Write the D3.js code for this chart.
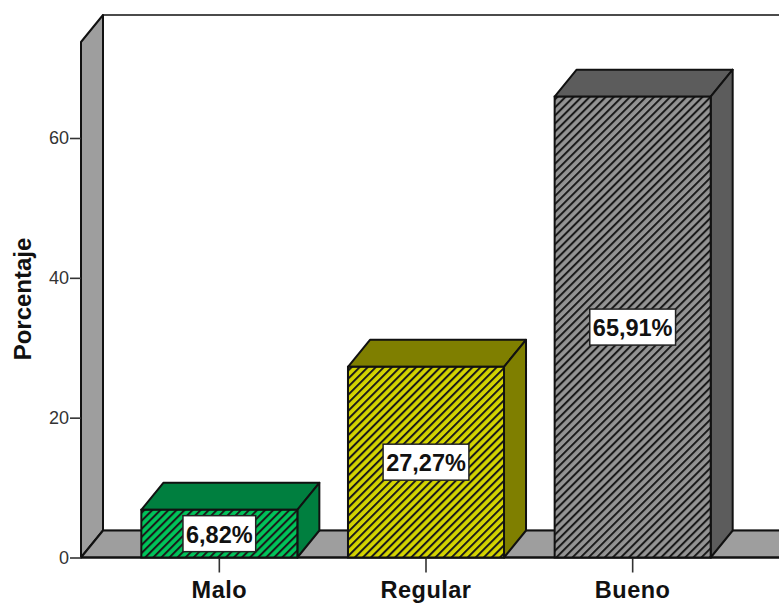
<!DOCTYPE html>
<html><head><meta charset="utf-8">
<script src="https://cdn.jsdelivr.net/npm/d3@7/dist/d3.min.js"></script>
<style>html,body{margin:0;padding:0;background:#fff}svg{display:block}text{font-family:"Liberation Sans",Arial,sans-serif}</style>
</head><body><svg id="c" width="779" height="603"></svg>
<script>
const categories = ["Malo","Regular","Bueno"];
const values = [6.82,27.27,65.91];
const valueLabels = ["6,82%","27,27%","65,91%"];
const frontColors = ["#00c45a","#d4d400","#949494"];
const sideColors = ["#007f3f","#7f7f00","#5c5c5c"];
const yTicks = [0,20,40,60];
const axisTitle = "Porcentaje";

const W=779,H=603,dx=22,dy=-27,ink="#111";
const svg=d3.select("#c");
const y=d3.scaleLinear().domain([0,60]).range([557.5,138]);
const x=d3.scaleBand().domain(categories).range([116,736]).paddingInner(.245).paddingOuter(.1225);
const left=81,top0=42,base=y(0);
const defs=svg.append("defs");
categories.forEach((c,i)=>{
  const p=defs.append("pattern").attr("id","h"+i).attr("patternUnits","userSpaceOnUse")
    .attr("width",5.7).attr("height",5.7).attr("patternTransform","rotate(45)");
  p.append("rect").attr("width",5.7).attr("height",5.7).attr("fill",frontColors[i]);
  p.append("rect").attr("width",2).attr("height",5.7).attr("fill","#1a1a1a");
});
const poly=(pts,fill,sw=1.6)=>svg.append("polygon").attr("points",pts.map(p=>p.join(",")).join(" "))
  .attr("fill",fill).attr("stroke",ink).attr("stroke-width",sw).attr("stroke-linejoin","round");
// Back wall, side wall, floor
poly([[left+dx,top0+dy],[W+5,top0+dy],[W+5,base+dy],[left+dx,base+dy]],"#fff");
poly([[left,top0],[left+dx,top0+dy],[left+dx,base+dy],[left,base]],"#9e9e9e",2);
poly([[left,base],[left+dx,base+dy],[W+5,base+dy],[W+5,base]],"#9e9e9e",2);
// Axes
svg.append("line").attr("x1",left).attr("x2",W).attr("y1",base).attr("y2",base).attr("stroke",ink).attr("stroke-width",2);
const yAxis=svg.append("g").attr("transform",`translate(${left},0)`)
  .call(d3.axisLeft(y).tickValues(yTicks).tickSize(11).tickPadding(1).tickFormat(d3.format("d")));
yAxis.select(".domain").remove();
yAxis.selectAll("line").attr("stroke","#333").attr("stroke-width",1.6);
yAxis.selectAll("text").attr("font-size",18).attr("fill","#333");
const xAxis=svg.append("g").attr("transform",`translate(0,${base})`)
  .call(d3.axisBottom(x).tickSize(15).tickPadding(9));
xAxis.select(".domain").remove();
xAxis.selectAll("line").attr("stroke","#333").attr("stroke-width",1.6);
xAxis.selectAll("text").attr("font-size",23.5).attr("letter-spacing",.5).attr("font-weight","bold").attr("fill","#111");
svg.append("text").attr("transform","translate(31,299) rotate(-90)").attr("text-anchor","middle")
  .attr("font-size",24).attr("font-weight","bold").attr("fill","#111").text(axisTitle);
// Bars
categories.forEach((c,i)=>{
  const x0=x(c),x1=x0+x.bandwidth(),yt=y(values[i]),mid=(yt+base)/2;
  poly([[x0,yt],[x0+dx,yt+dy],[x1+dx,yt+dy],[x1,yt]],sideColors[i],2);
  poly([[x1,yt],[x1+dx,yt+dy],[x1+dx,base+dy],[x1,base]],sideColors[i],2);
  svg.append("rect").attr("x",x0).attr("y",yt).attr("width",x1-x0).attr("height",base-yt)
    .attr("fill",`url(#h${i})`).attr("stroke",ink).attr("stroke-width",2);
  const t=svg.append("text").attr("x",(x0+x1)/2).attr("y",mid+9).attr("text-anchor","middle")
    .attr("font-size",23.5).attr("font-weight","bold").attr("fill","#111").text(valueLabels[i]);
  const b=t.node().getBBox();
  svg.insert("rect",()=>t.node()).attr("x",(x0+x1)/2-b.width/2-3).attr("y",mid-18).attr("width",b.width+6).attr("height",36)
    .attr("fill","#fff").attr("stroke","#222").attr("stroke-width",1.5);
});
</script></body></html>
